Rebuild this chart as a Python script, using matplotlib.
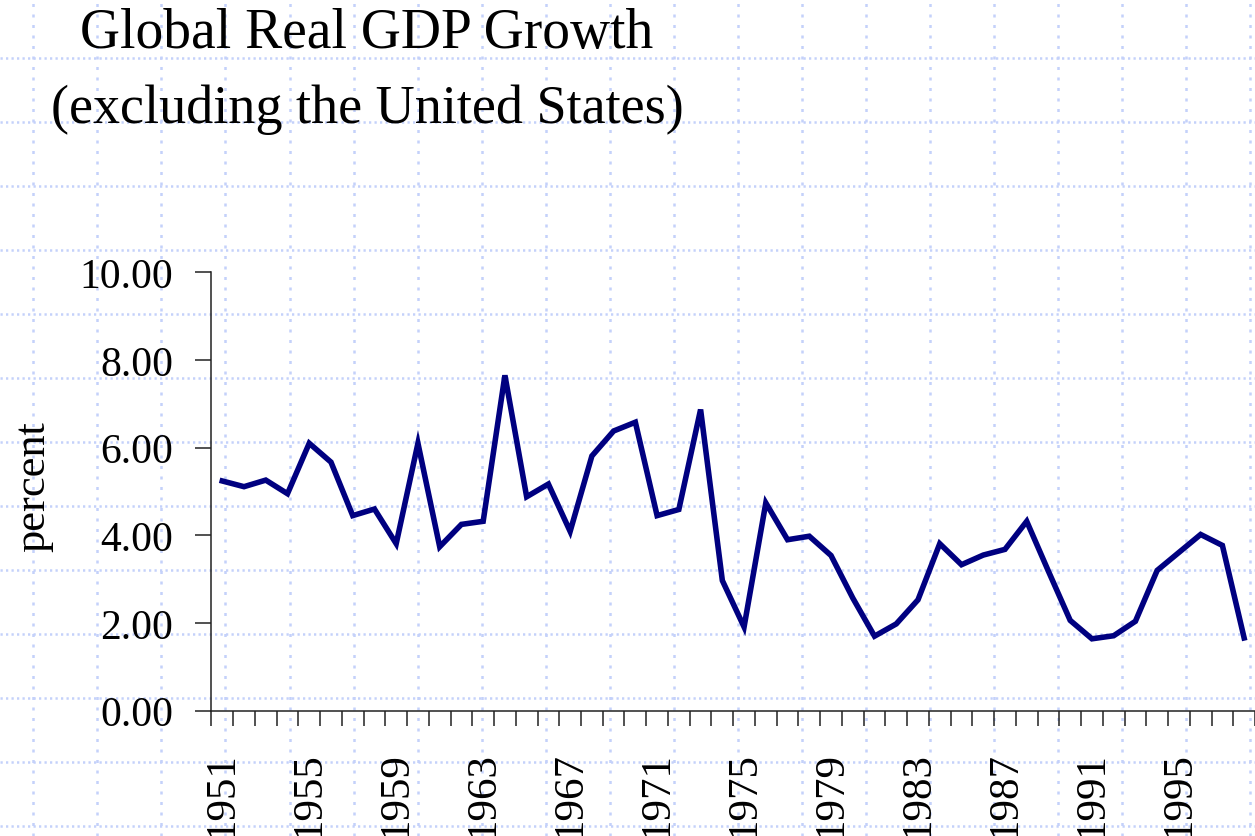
import numpy as np
import matplotlib
matplotlib.use('Agg')
import matplotlib.pyplot as plt

# 数据：1951-1998 全球实际GDP增长率（不含美国）
years = list(range(1951, 1999))
growth = [5.24, 5.11, 5.26, 4.95, 6.10, 5.67, 4.45, 4.60, 3.81, 6.10,
          3.74, 4.25, 4.32, 7.65, 4.88, 5.17, 4.09, 5.81, 6.38, 6.58,
          4.45, 4.59, 6.87, 2.97, 1.91, 4.74, 3.90, 3.98, 3.54, 2.57,
          1.70, 1.98, 2.53, 3.81, 3.33, 3.55, 3.68, 4.32, 3.18, 2.06,
          1.64, 1.71, 2.04, 3.20, 3.61, 4.02, 3.77, 1.66]
y_ticks = [0, 2, 4, 6, 8, 10]
title_lines = ['Global Real GDP Growth', '(excluding the United States)']
y_label = 'percent'

W, H = 1255, 837
SERIF = ['Liberation Serif', 'DejaVu Serif']
plt.rcParams['font.family'] = SERIF

fig = plt.figure(figsize=(W / 100, H / 100), dpi=100)

# 背景点状网格
bg = fig.add_axes([0, 0, 1, 1], zorder=0)
bg.set_xlim(0, W)
bg.set_ylim(H, 0)
bg.axis('off')
grid_color = '#c4d1fa'
for gx in np.arange(33.3, W, 64.05):
    bg.axvline(gx, color=grid_color, lw=1.8, linestyle=(0, (1.2, 3.0)))
for gy in np.arange(59.2, H, 63.95):
    bg.axhline(gy, color=grid_color, lw=1.8, linestyle=(0, (0.9, 1.3)))

# 主图
x0, x1 = 211.4, W
y_top, y_bot = 273.3, 711.7
ax = fig.add_axes([x0 / W, (H - y_bot) / H, (x1 - x0) / W, (y_bot - y_top) / H], zorder=2)
ax.patch.set_alpha(0)

xs = np.arange(len(years))
ax.plot(xs, growth, color='#000080', lw=4.0, solid_joinstyle='miter', clip_on=True)

ax.set_ylim(0, 10)
ax.set_xlim(-0.5, -0.5 + (x1 - x0) / 21.8)
ax.set_yticks(y_ticks)
ax.set_yticklabels(['%.2f' % v for v in y_ticks])

# 类别轴：刻度在类别边界，标签在类别中心（每4年）
ax.set_xticks(np.arange(len(years) + 1) - 0.5)
ax.set_xticklabels([])
lab_pos = xs[::4]
ax.set_xticks(lab_pos, minor=True)
ax.set_xticklabels([str(years[i]) for i in lab_pos], minor=True, rotation=90)

for s in ['top', 'right']:
    ax.spines[s].set_visible(False)
for s in ['left', 'bottom']:
    ax.spines[s].set_linewidth(1.1)
    ax.spines[s].set_color('#222222')

ax.tick_params(axis='y', which='major', length=11.5, width=1.1, color='#222222',
               labelsize=30, pad=15.8)
ax.tick_params(axis='x', which='major', length=11, width=1.1, color='#222222')
ax.tick_params(axis='x', which='minor', length=0, labelsize=31, pad=29)

# 标题与y轴标签
fig.text(367 / W, 1 - 48 / H, title_lines[0], ha='center', va='baseline', fontsize=40)
fig.text(367 / W, 1 - 123 / H, title_lines[1], ha='center', va='baseline', fontsize=39)
fig.text(33 / W, 1 - 487 / H, y_label, rotation=90, ha='center', va='center', fontsize=32)

plt.savefig('out.png', dpi=100)
